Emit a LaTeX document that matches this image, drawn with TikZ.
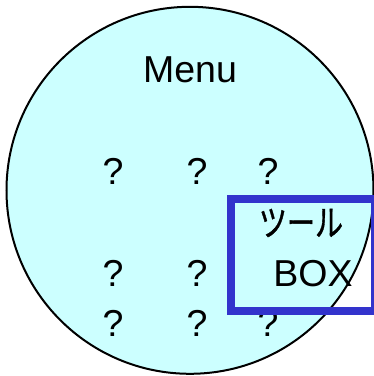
\documentclass[tikz,border=0pt]{standalone}
\usepackage{fontspec}
\setmainfont{Liberation Sans}
\newfontfamily\jpfont[FakeBold=1.2]{Noto Sans CJK JP}
\definecolor{menufill}{HTML}{CCFFFF}
\definecolor{boxblue}{HTML}{3333CC}
\begin{document}
\begin{tikzpicture}[x=1pt,y=1pt,
  lbl/.style={inner sep=0pt,anchor=base,font=\fontsize{37.5}{40}\selectfont},
  qm/.style={lbl}]
\useasboundingbox (0,0) rectangle (374,376);
\clip (0,0) rectangle (374,376);
\node[circle,draw=black,line width=2pt,fill=menufill,minimum size=367pt,inner sep=0pt] (menu) at (190,185.7) {};
\node[lbl] (title) at (190,294) {Menu};
\node[qm] (q11) at (113,191) {?};
\node[qm] (q12) at (197,191) {?};
\node[qm] (q13) at (268,191) {?};
\node[qm] (q21) at (113,89) {?};
\node[qm] (q22) at (197,89) {?};
\node[qm] (q31) at (113,39) {?};
\node[qm] (q32) at (197,39) {?};
\node[qm] (q33) at (268,39) {?};
\node[inner sep=0pt,anchor=center,xscale=0.78,font=\jpfont\fontsize{36}{38}\selectfont] (tool) at (301,153) {ツール};
\node[lbl] (boxtxt) at (313,89) {BOX};
\draw[boxblue,line width=8pt] (231,177) rectangle (375,64.5);
\end{tikzpicture}
\end{document}
